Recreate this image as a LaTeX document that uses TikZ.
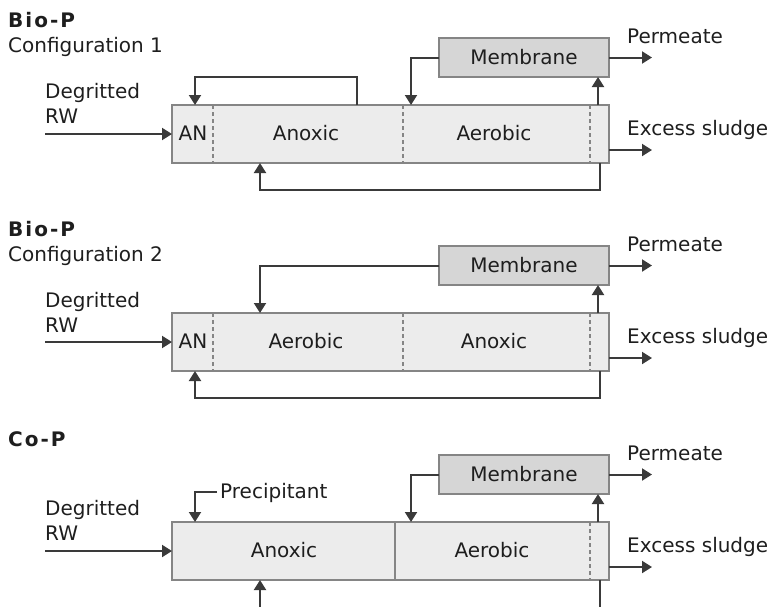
\documentclass[tikz,border=0pt]{standalone}
\usepackage{fontspec}
\setmainfont{DejaVu Sans}
\usetikzlibrary{arrows.meta}
\definecolor{linec}{HTML}{3A3A3A}
\definecolor{tankborder}{HTML}{858585}
\definecolor{tankfill}{HTML}{ECECEC}
\definecolor{memfill}{HTML}{D6D6D6}
\definecolor{textc}{HTML}{1E1E1E}
\begin{document}
\begin{tikzpicture}[x=1pt,y=-1pt,
  tank/.style={draw=tankborder, line width=1.8pt, fill=tankfill, inner sep=0pt, outer sep=0pt,
    minimum width=437pt, minimum height=58pt},
  membox/.style={draw=tankborder, line width=1.8pt, fill=memfill, inner sep=0pt, outer sep=0pt,
    minimum width=170pt, minimum height=39pt, font=\fontsize{20}{23}\selectfont, text=textc},
  lbl/.style={inner sep=0pt, font=\fontsize{20}{23}\selectfont, text=textc},
  ttl/.style={inner sep=0pt, font=\fontsize{20}{23}\selectfont\bfseries\addfontfeatures{LetterSpace=10}, text=textc},
  flow/.style={draw=linec, line width=2pt, -{Triangle[length=10pt,width=12pt]}},
  plain/.style={draw=linec, line width=2pt},
  divd/.style={draw=tankborder, line width=1.4pt, dash pattern=on 4pt off 3pt},
  divs/.style={draw=tankborder, line width=1.7pt}
]
\useasboundingbox (0,0) rectangle (773,606);

% ================= Configuration 1 =================
\node[ttl, anchor=base west] (t1) at (8,27) {Bio-P};
\node[lbl, anchor=base west] (c1) at (8,52) {Configuration 1};
\node[lbl, anchor=base west] (d1) at (45,98) {Degritted};
\node[lbl, anchor=base west] (rw1) at (45,123) {RW};
\node[tank] (tank1) at (390.5,134) {};
\node[membox] (mem1) at (524,57.5) {Membrane};
\draw[divd] ([xshift=41pt]tank1.north west) -- ([xshift=41pt]tank1.south west);
\draw[divd] ([xshift=231pt]tank1.north west) -- ([xshift=231pt]tank1.south west);
\draw[divd] ([xshift=418pt]tank1.north west) -- ([xshift=418pt]tank1.south west);
\node[lbl, anchor=base] (an1) at (193,140) {AN};
\node[lbl, anchor=base] (ax1) at (306,140) {Anoxic};
\node[lbl, anchor=base] (ae1) at (494,140) {Aerobic};
\coordinate (in1) at (45,134);
\draw[flow] (in1) -- (tank1.west);
\draw[flow] ([xshift=185pt]tank1.north west) -- ++(0,-28) -| ([xshift=23pt]tank1.north west);
\draw[flow] (mem1.west) -| ([xshift=239pt]tank1.north west);
\draw[flow] ([xshift=426pt]tank1.north west) -- ([xshift=159pt]mem1.south west);
\draw[flow] (mem1.east) -- ++(43,0) coordinate (pe1);
\node[lbl, anchor=base west] (pl1) at (627,43) {Permeate};
\draw[flow] ([yshift=13pt]tank1.south east) -- ++(43,0) coordinate (ex1);
\node[lbl, anchor=base west] (el1) at (627,135) {Excess sludge};
\draw[flow] ([xshift=428pt]tank1.south west) -- ++(0,27) -| ([xshift=88pt]tank1.south west);

% ================= Configuration 2 =================
\node[ttl, anchor=base west] (t2) at (8,236) {Bio-P};
\node[lbl, anchor=base west] (c2) at (8,261) {Configuration 2};
\node[lbl, anchor=base west] (d2) at (45,307) {Degritted};
\node[lbl, anchor=base west] (rw2) at (45,332) {RW};
\node[tank] (tank2) at (390.5,342) {};
\node[membox] (mem2) at (524,265.5) {Membrane};
\draw[divd] ([xshift=41pt]tank2.north west) -- ([xshift=41pt]tank2.south west);
\draw[divd] ([xshift=231pt]tank2.north west) -- ([xshift=231pt]tank2.south west);
\draw[divd] ([xshift=418pt]tank2.north west) -- ([xshift=418pt]tank2.south west);
\node[lbl, anchor=base] (an2) at (193,348) {AN};
\node[lbl, anchor=base] (ae2) at (306,348) {Aerobic};
\node[lbl, anchor=base] (ax2) at (494,348) {Anoxic};
\coordinate (in2) at (45,342);
\draw[flow] (in2) -- (tank2.west);
\draw[flow] (mem2.west) -| ([xshift=88pt]tank2.north west);
\draw[flow] ([xshift=426pt]tank2.north west) -- ([xshift=159pt]mem2.south west);
\draw[flow] (mem2.east) -- ++(43,0) coordinate (pe2);
\node[lbl, anchor=base west] (pl2) at (627,251) {Permeate};
\draw[flow] ([yshift=13pt]tank2.south east) -- ++(43,0) coordinate (ex2);
\node[lbl, anchor=base west] (el2) at (627,343) {Excess sludge};
\draw[flow] ([xshift=428pt]tank2.south west) -- ++(0,27) -| ([xshift=23pt]tank2.south west);

% ================= Co-P =================
\node[ttl, anchor=base west] (t3) at (8,446) {Co-P};
\node[lbl, anchor=base west] (d3) at (45,515) {Degritted};
\node[lbl, anchor=base west] (rw3) at (45,540) {RW};
\node[tank] (tank3) at (390.5,551) {};
\node[membox] (mem3) at (524,474.5) {Membrane};
\draw[divs] ([xshift=223pt]tank3.north west) -- ([xshift=223pt]tank3.south west);
\draw[divd] ([xshift=418pt]tank3.north west) -- ([xshift=418pt]tank3.south west);
\node[lbl, anchor=base] (ax3) at (284,557) {Anoxic};
\node[lbl, anchor=base] (ae3) at (492,557) {Aerobic};
\coordinate (in3) at (45,551);
\draw[flow] (in3) -- (tank3.west);
\node[lbl, anchor=base west] (pr3) at (220,498) {Precipitant};
\coordinate (pc3) at (217,492);
\draw[flow] (pc3) -| ([xshift=23pt]tank3.north west);
\draw[flow] (mem3.west) -| ([xshift=239pt]tank3.north west);
\draw[flow] ([xshift=426pt]tank3.north west) -- ([xshift=159pt]mem3.south west);
\draw[flow] (mem3.east) -- ++(43,0) coordinate (pe3);
\node[lbl, anchor=base west] (pl3) at (627,460) {Permeate};
\draw[flow] ([yshift=13pt]tank3.south east) -- ++(43,0) coordinate (ex3);
\node[lbl, anchor=base west] (el3) at (627,552) {Excess sludge};
\coordinate (bi3) at (260,612);
\draw[flow] (bi3) -- ([xshift=88pt]tank3.south west);
\coordinate (bo3) at (600,612);
\draw[plain] ([xshift=428pt]tank3.south west) -- (bo3);
\end{tikzpicture}
\end{document}
